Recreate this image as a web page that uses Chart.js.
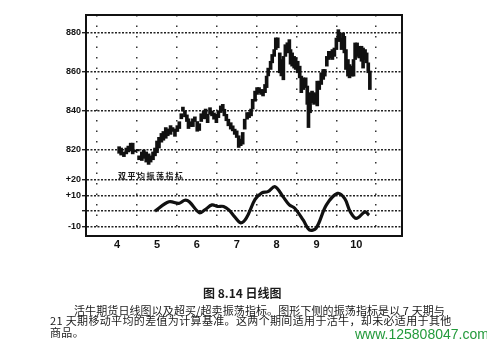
<!DOCTYPE html>
<html>
<head>
<meta charset="utf-8">
<script src="https://cdn.jsdelivr.net/npm/chart.js@4"></script>
<style>
  body { margin: 0; background: #fff; }
  #wrap { position: relative; width: 487px; height: 343px; overflow: hidden; }
  #wrap canvas { position: absolute; left: 0; top: 0; }
  .txt { position: absolute; white-space: nowrap; font-family: "Noto Sans CJK SC", sans-serif; color: #1a1a1a; }
</style>
</head>
<body>
<div id="wrap">
  <canvas id="dailyChart" width="487" height="343"></canvas>
  <div class="txt" style="left:118px; top:170px; font-size:8px; font-weight:bold; letter-spacing:1.5px;">双平均振荡指标</div>
  <div class="txt" style="left:203px; top:284px; font-size:12px; font-weight:bold;">图 8.14 日线图</div>
  <div class="txt" style="left:74px; top:302px; font-size:11px; letter-spacing:0.1px;">活牛期货日线图以及超买/超卖振荡指标。图形下侧的振荡指标是以 7 天期与</div>
  <div class="txt" style="left:50px; top:314px; font-size:11px; letter-spacing:0.35px; line-height:12px;">21 天期移动平均的差值为计算基准。这两个期间适用于活牛，却未必适用于其他<br>商品。</div>
  <div class="txt" style="left:355px; top:326px; font-size:14px; font-family:'Liberation Sans', Arial, sans-serif; color:#239a3b;">www.125808047.com</div>
</div>
<script>
// x axis is in months (4 = April ... 10 = October)
const monthTicks = [4, 5, 6, 7, 8, 9, 10];
const priceTicks = [820, 840, 860, 880];
const oscTicks = [-10, 0, 10, 20];
const oscTickLabels = ["-10", "", "+10", "+20"];

// daily price bars (low / high)
const barMonths = [
  4.05, 4.10, 4.17, 4.23, 4.28, 4.34, 4.39, 4.45, 4.52, 4.55, 4.62, 4.67, 4.73, 4.79, 4.84, 4.90,
  4.95, 5.00, 5.05, 5.11, 5.16, 5.22, 5.27, 5.34, 5.39, 5.45, 5.51, 5.56, 5.61, 5.65, 5.70, 5.75,
  5.79, 5.85, 5.90, 5.95, 6.01, 6.06, 6.11, 6.17, 6.22, 6.27, 6.33, 6.38, 6.43, 6.49, 6.54, 6.60,
  6.65, 6.69, 6.74, 6.79, 6.85, 6.90, 6.95, 7.00, 7.05, 7.10, 7.15, 7.20, 7.26, 7.31, 7.36, 7.40,
  7.46, 7.51, 7.56, 7.61, 7.66, 7.71, 7.75, 7.79, 7.85, 7.89, 7.94, 7.98, 8.03, 8.08, 8.12, 8.17,
  8.22, 8.27, 8.32, 8.35, 8.39, 8.44, 8.48, 8.53, 8.58, 8.62, 8.67, 8.73, 8.77, 8.80, 8.84, 8.89,
  8.94, 8.98, 9.02, 9.07, 9.12, 9.17, 9.21, 9.26, 9.31, 9.36, 9.40, 9.45, 9.50, 9.55, 9.59, 9.63,
  9.67, 9.70, 9.74, 9.79, 9.83, 9.89, 9.93, 9.97, 10.02, 10.07, 10.13, 10.17, 10.22, 10.26, 10.30, 10.34
];
const barLows = [
  818.3, 817.4, 816.6, 818, 819, 819.5, 818, 819, 819.5, 815, 814.6, 815.7, 813.8, 812.6, 813.8, 815,
  817, 818.6, 821, 824, 825, 826, 827.3, 828, 829.5, 827, 829.5, 831, 836, 840, 837, 834.6,
  831, 832, 832, 834.6, 829.6, 830, 834.6, 836, 836, 834, 838.3, 837.5, 835.8, 834, 836.6, 839.2,
  840, 837.5, 835, 832.4, 830.7, 829.8, 828, 826.4, 821.3, 822.2, 823, 830.7, 835.8, 836.6, 837.5, 841,
  845, 848.5, 849.4, 848.5, 847.7, 849.4, 852, 858, 861.3, 864.7, 868, 871.5, 872.4, 859.6, 858, 856,
  868, 869.8, 871.5, 864, 863, 862, 861.3, 859.6, 857, 849.4, 851, 852, 843.4, 831.5, 839.1, 844.3,
  843.4, 844.3, 842.6, 851, 853.6, 856.2, 857.9, 863, 866.4, 867.2, 866.4, 868, 871.5, 875.7, 875.7, 871.5,
  875, 869.8, 861.3, 857.9, 857, 857.9, 857.9, 866.4, 868, 867.2, 865.5, 862, 866.4, 864.7, 859.6, 851
];
const barHighs = [
  821.7, 821, 819, 821, 822, 823.5, 823.5, 820, 820.3, 817, 819, 820, 819, 818, 817, 819,
  821, 824.6, 826.5, 828.5, 829.5, 831.5, 830.8, 832.5, 831.5, 830.8, 832.5, 834.5, 838.6, 842, 840, 838,
  836, 834.5, 836, 837, 834.6, 833.5, 838.6, 840, 841, 838.3, 841.7, 840, 839, 838.3, 840, 842.6,
  843.4, 840.9, 838.3, 835.8, 834, 832.4, 830.7, 829.8, 827.3, 825.6, 829, 835.8, 839.2, 839.2, 841, 846,
  850.2, 852, 852, 851, 851, 853.6, 857.9, 862, 865.5, 869, 871.5, 877.5, 877.5, 869.8, 866.4, 868,
  874, 875, 876.6, 871.5, 869.8, 868, 867.2, 865.5, 863, 857.9, 857, 857, 852.8, 844.3, 849.4, 850.2,
  849.4, 848.5, 855.3, 855.3, 859.6, 861.3, 861.3, 868, 870.6, 870.6, 871.5, 872.3, 877.4, 881.7, 880, 877.4,
  880, 878.3, 871.5, 866.4, 863.8, 863, 866.4, 874.9, 874.9, 873.2, 873.2, 872.3, 871.5, 869.8, 864.7, 860.5
];

// 7-day minus 21-day moving average oscillator
const oscMonths = [
  4.95, 5.30, 5.55, 5.70, 5.81, 6.06, 6.19, 6.38, 6.52, 6.67, 6.81, 6.95, 7.10, 7.24, 7.46, 7.63,
  7.78, 7.96, 8.17, 8.32, 8.45, 8.67, 8.82, 8.99, 9.25, 9.53, 9.71, 9.85, 10.00, 10.22, 10.32
];
const oscValues = [
  0, 6, 5, 7, 6, -1, 0.6, 4, 3, 3, 0.6, -3.7, -7.5, -4.5, 7.5, 11.8,
  12.5, 15.7, 9, 4, 2, -5.8, -12, -11, 4, 11.4, 8, -0.5, -4.7, -0.5, -2.6
];

const priceBars = barMonths.map((m, i) => ({ x: m, y: [barLows[i], barHighs[i]] }));
const oscPoints = oscMonths.map((m, i) => ({ x: m, y: oscValues[i] }));

// black frame round the plot area
const framePlugin = {
  id: "frame",
  afterDraw(chart) {
    const a = chart.chartArea;
    const c = chart.ctx;
    c.save();
    c.strokeStyle = "#111";
    c.lineWidth = 2;
    c.strokeRect(a.left, a.top, a.right - a.left, a.bottom - a.top);
    c.restore();
  },
};

const tickFont = { family: "'Liberation Sans', Arial, sans-serif", size: 9, weight: "bold" };

const ctx = document.getElementById("dailyChart").getContext("2d");
const dailyChart = new Chart(ctx, {
  data: {
    datasets: [
      {
        type: "bar",
        label: "price",
        data: priceBars,
        xAxisID: "x",
        yAxisID: "y",
        backgroundColor: "#111",
        borderWidth: 0,
        barThickness: 3,
        grouped: false,
      },
      {
        type: "line",
        label: "oscillator",
        data: oscPoints,
        xAxisID: "x",
        yAxisID: "y2",
        borderColor: "#111",
        borderWidth: 3.2,
        pointRadius: 0,
        tension: 0.35,
        fill: false,
      },
    ],
  },
  options: {
    responsive: false,
    animation: false,
    layout: { padding: { left: 0, top: 15, right: 85, bottom: 87 } },
    plugins: { legend: { display: false }, tooltip: { enabled: false } },
    scales: {
      x: {
        type: "linear",
        min: 3.785,
        max: 10.58,
        afterBuildTicks: (s) => { s.ticks = monthTicks.map((v) => ({ value: v })); },
        afterFit: (s) => { s.height = 20; },
        ticks: {
          color: "#111",
          font: { family: "'Liberation Sans', Arial, sans-serif", size: 11, weight: "bold" },
          padding: 2,
          autoSkip: false,
        },
        grid: { color: "#333", lineWidth: 1.5, drawTicks: false },
        border: { display: true, color: "#111", width: 2, dash: [1.5, 9] },
      },
      // price panel (top part of the stacked left axis)
      y: {
        type: "linear",
        position: "left",
        stack: "panels",
        stackWeight: 150,
        weight: 1,
        min: 812.3,
        max: 889.23,
        afterBuildTicks: (s) => { s.ticks = priceTicks.map((v) => ({ value: v })); },
        afterFit: (s) => { s.width = 86; },
        ticks: { color: "#111", font: tickFont, padding: 1, autoSkip: false },
        grid: { color: "#222", lineWidth: 1.4, tickLength: 4 },
        border: { display: true, color: "#111", width: 2, dash: [2, 1.5] },
      },
      // oscillator panel (bottom part)
      y2: {
        type: "linear",
        position: "left",
        stack: "panels",
        stackWeight: 71,
        weight: 0,
        min: -15.97,
        max: 29.63,
        afterBuildTicks: (s) => { s.ticks = oscTicks.map((v) => ({ value: v })); },
        afterFit: (s) => { s.width = 86; },
        ticks: {
          color: "#111",
          font: tickFont,
          padding: 1,
          autoSkip: false,
          callback: (v) => oscTickLabels[oscTicks.indexOf(v)],
        },
        grid: { color: "#222", lineWidth: 1.4, tickLength: 4 },
        border: { display: true, color: "#111", width: 2, dash: [2, 1.5] },
      },
    },
  },
  plugins: [framePlugin],
});
</script>
</body>
</html>
